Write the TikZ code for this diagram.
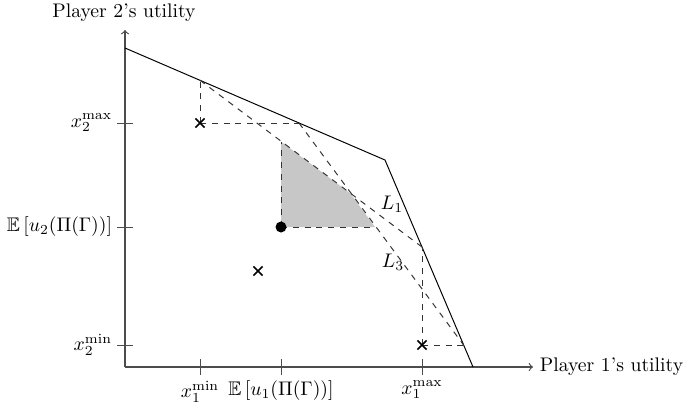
\documentclass[tikz,border=0pt]{standalone}
\usepackage{amssymb}
\usetikzlibrary{shapes.misc}
\begin{document}
\begin{tikzpicture}[x=0.508pt,y=-0.508pt,
  axis/.style={black!70, line width=0.6pt},
  tick/.style={black!70, line width=0.5pt},
  frontier/.style={black, line width=0.5pt},
  guide/.style={dashed, black!80, line width=0.5pt},
  xmk/.style={cross out, draw=black, line width=0.8pt, inner sep=0pt, minimum size=7.5*0.508pt},
  lbl/.style={inner sep=0pt}]
\useasboundingbox (0,0) rectangle (685,406);
% axes
\coordinate (O) at (125,367);
\coordinate (yend) at (125,30);
\coordinate (xend) at (533,367);
% frontier
\coordinate (F1) at (125,48);
\coordinate (F2) at (385,160);
\coordinate (F3) at (473,367);
% key points
\coordinate (A) at (200,80.3);
\coordinate (B) at (299,123);
\coordinate (C) at (422,247);
\coordinate (D) at (463.6,345);
\coordinate (P1) at (281,141.6);
\coordinate (P2) at (350.4,193.5);
\coordinate (P3) at (375,227);
% shaded region
\fill[black!22] (281,227) -- (P1) -- (P2) -- (P3) -- cycle;
\draw[axis,->] (O) -- (yend);
\draw[axis,->] (O) -- (xend);
\node (ylab) at (124,13) {Player 2's utility};
\node[anchor=west] (xlab) at (xend) {Player 1's utility};
% ticks
\draw[tick] (200,359) -- (200,375);
\draw[tick] (281,359) -- (281,375);
\draw[tick] (422,359) -- (422,375);
\draw[tick] (117,123) -- (133,123);
\draw[tick] (117,227) -- (133,227);
\draw[tick] (117,345) -- (133,345);
\node[anchor=north] (tx1min) at (200,374) {$x_1^{\min}$};
\node[anchor=north] (teu1) at (281,374) {$\mathbb{E}\left[u_1(\Pi(\Gamma))\right]$};
\node[anchor=north] (tx1max) at (422,374) {$x_1^{\max}$};
\node[anchor=east] (ty2max) at (119,123) {$x_2^{\max}$};
\node[anchor=east] (teu2) at (119,227) {$\mathbb{E}\left[u_2(\Pi(\Gamma))\right]$};
\node[anchor=east] (ty2min) at (119,345) {$x_2^{\min}$};
% frontier
\draw[frontier] (F1) -- (F2) -- (F3);
% dashed guides
\coordinate (s1c) at (200,123);
\coordinate (s2c) at (422,345);
\coordinate (dotc) at (281,227);
\draw[guide] (s1c) -- (A);
\draw[guide] (s1c) -- (B);
\draw[guide] (s2c) -- (C);
\draw[guide] (s2c) -- (D);
\draw[guide] (A) -- (C);
\draw[guide] (B) -- (D);
\draw[guide] (dotc) -- (P1);
\draw[guide] (dotc) -- (P3);
% points
\node[xmk] (s1) at (s1c) {};
\node[xmk] (s2) at (s2c) {};
\node[xmk] (s3) at (258,271) {};
\node[circle, fill=black, inner sep=0pt, minimum size=11*0.508pt] (dot) at (dotc) {};
\node[lbl] (L1) at (392,204) {$L_1$};
\node[lbl] (L3) at (393,262) {$L_3$};
\end{tikzpicture}
\end{document}
